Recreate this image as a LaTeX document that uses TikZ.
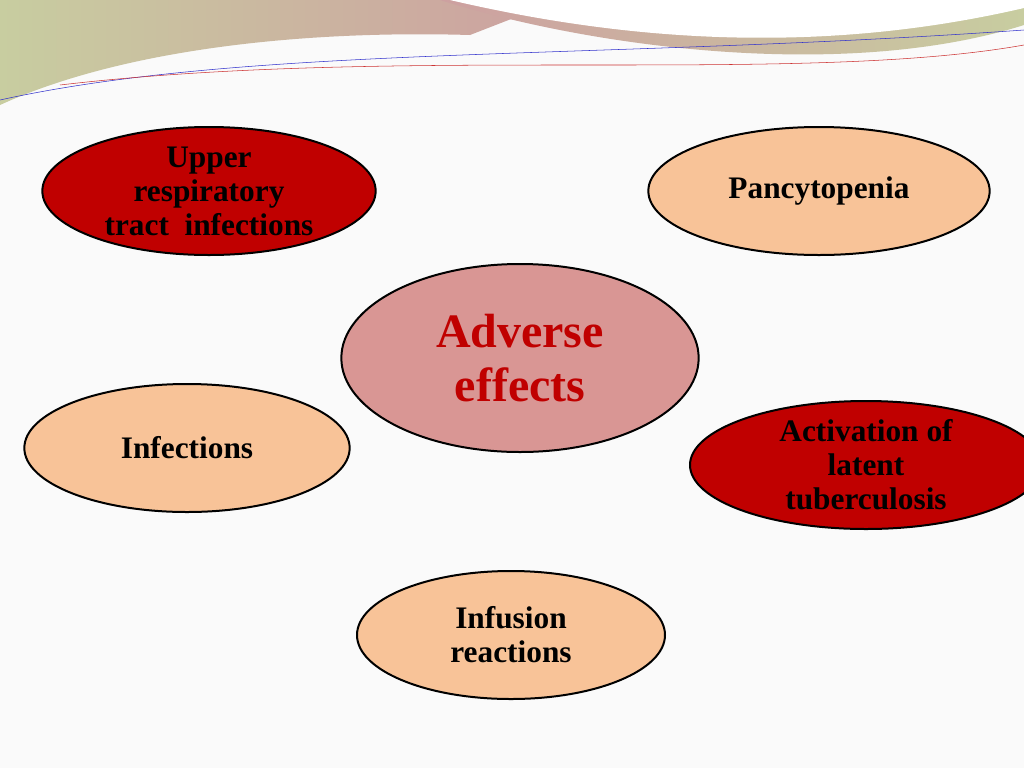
\documentclass[tikz,border=0pt]{standalone}
\usepackage{fontspec}
\setmainfont{Liberation Serif}
\usetikzlibrary{shapes.geometric}
\definecolor{effectred}{RGB}{192,0,0}
\definecolor{effectpeach}{RGB}{248,195,152}
\definecolor{effectrose}{RGB}{217,150,148}
\definecolor{bandpink}{RGB}{205,160,160}
\definecolor{bandgreen}{RGB}{200,205,160}

\begin{document}
\begin{tikzpicture}[
    x=0.75pt, y=-0.75pt,
    every node/.style={font=\bfseries\fontsize{23.5}{25.5}\selectfont, align=center, inner sep=0pt},
    redeffect/.style={ellipse, fill=effectred, draw=black, line width=1.5pt},
    peacheffect/.style={ellipse, fill=effectpeach, draw=black, line width=1.5pt},
    centre/.style={ellipse, fill=effectrose, draw=black, line width=1.5pt, text=effectred, font=\bfseries\fontsize{36}{41}\selectfont}
]
\useasboundingbox (0,0) rectangle (1024,768);
\clip (0,0) rectangle (1024,768);
\fill[white!96!gray] (0,0) rectangle (1024,768);

% decorative band at the top
\shade[left color=bandgreen, right color=bandpink] (0,0) -- (0,105) .. controls (120,50) and (300,30) .. (470,35) -- (560,0) -- cycle;
\shade[left color=bandpink, right color=bandgreen] (440,0) .. controls (600,50) and (850,80) .. (1024,25) -- (1024,0) -- cycle;
\fill[white] (450,0) .. controls (600,35) and (800,60) .. (1024,8) -- (1024,0) -- cycle;
\draw[blue!60!gray, line width=0.4pt] (0,100) .. controls (250,45) and (600,60) .. (1024,30);
\draw[red!60!gray, line width=0.4pt] (60,85) .. controls (400,45) and (800,85) .. (1024,45);

% ellipses
\node[redeffect, minimum width=250, minimum height=96] (upper) at (209,191) {Upper\\respiratory\\tract\ \ infections};
\node[peacheffect, minimum width=256, minimum height=96] (pancyto) at (819,191) {Pancytopenia};
\node[centre, minimum width=268, minimum height=141] (adverse) at (520,358) {Adverse\\effects};
\node[peacheffect, minimum width=244, minimum height=96] (infect) at (187,448) {Infections};
\node[redeffect, minimum width=264, minimum height=96] (latent) at (866,465) {Activation of\\latent\\tuberculosis};
\node[peacheffect, minimum width=231, minimum height=96] (infusion) at (511,635) {Infusion\\reactions};

\end{tikzpicture}
\end{document}
